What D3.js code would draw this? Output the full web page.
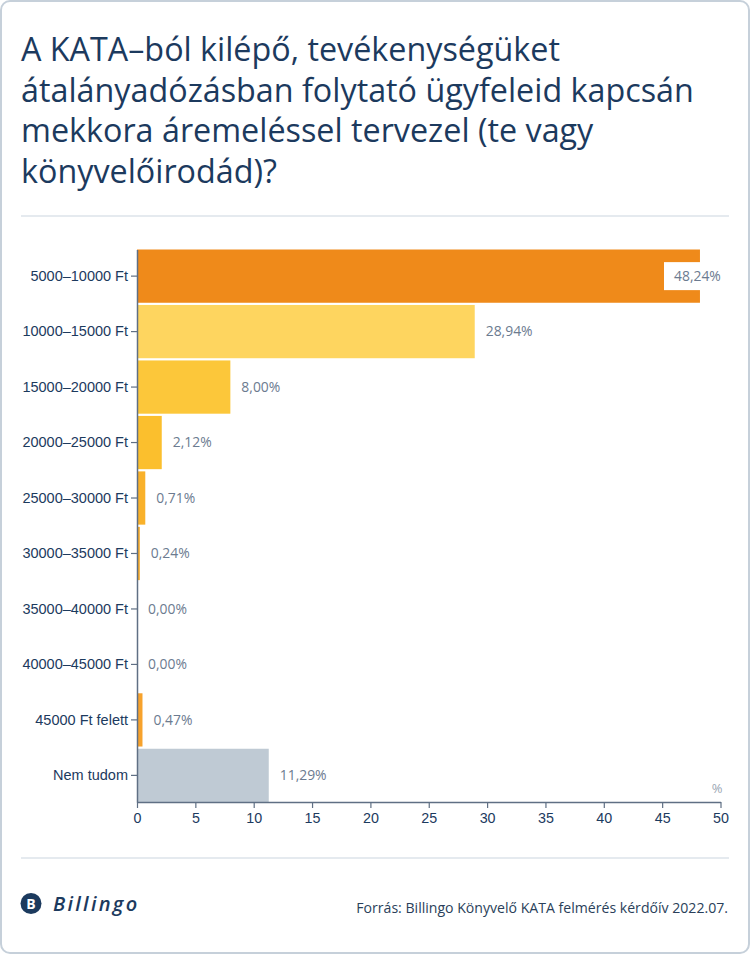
<!DOCTYPE html>
<html>
<head>
<meta charset="utf-8">
<script src="https://cdn.jsdelivr.net/npm/d3@7"></script>
<style>
  body { margin: 0; background: #fff; }
  svg { display: block; font-family: "Open Sans", "Noto Sans", sans-serif; }
</style>
</head>
<body>
<div id="chart"></div>
<script>
// Data
const categories = ['5000–10000 Ft', '10000–15000 Ft', '15000–20000 Ft', '20000–25000 Ft',
    '25000–30000 Ft', '30000–35000 Ft', '35000–40000 Ft', '40000–45000 Ft',
    '45000 Ft felett', 'Nem tudom'];
const values = [48.24, 28.94, 8.00, 2.12, 0.71, 0.24, 0.00, 0.00, 0.47, 11.29];
const barColors = ['#ef8a1a', '#fed55f', '#fcc73a', '#fbbf2d', '#f9b12a', '#f6aa27',
    '#f5a528', '#f5a528', '#f7a22c', '#bfcad4'];
const xTicks = [0, 5, 10, 15, 20, 25, 30, 35, 40, 45, 50];
const titleLines = ['A KATA–ból kilépő, tevékenységüket',
    'átalányadózásban folytató ügyfeleid kapcsán',
    'mekkora áremeléssel tervezel (te vagy',
    'könyvelőirodád)?'];
const sourceText = 'Forrás: Billingo Könyvelő KATA felmérés kérdőív 2022.07.';

const W = 750, H = 954;
const navy = '#1c3a5e';

const svg = d3.select('#chart').append('svg')
    .attr('width', W)
    .attr('height', H);

// Card
svg.append('rect')
    .attr('x', 1).attr('y', 1)
    .attr('width', W - 2).attr('height', H - 2)
    .attr('rx', 9)
    .attr('fill', '#fff')
    .attr('stroke', '#c6d0da')
    .attr('stroke-width', 2);

// Title
svg.append('text')
    .attr('x', 21)
    .attr('y', 61)
    .attr('fill', navy)
    .style('font-size', '32.3px')
    .selectAll('tspan')
    .data(titleLines)
    .enter()
    .append('tspan')
    .attr('x', 21)
    .attr('dy', (d, i) => i === 0 ? 0 : 40.5)
    .text(d => d);

// Separators
[216, 858].forEach(yy => {
    svg.append('line')
        .attr('x1', 21).attr('x2', 729)
        .attr('y1', yy).attr('y2', yy)
        .attr('stroke', '#dde3ea')
        .attr('stroke-width', 1.5);
});

// Scales
const x = d3.scaleLinear().domain([0, 50]).range([137, 720.5]);
const y = d3.scaleBand().domain(categories).range([249.5, 802]).paddingInner(0.04);

// Bars
svg.selectAll('.bar')
    .data(categories)
    .enter()
    .append('rect')
    .attr('class', 'bar')
    .attr('x', x(0))
    .attr('y', d => y(d))
    .attr('width', (d, i) => x(values[i]) - x(0))
    .attr('height', y.bandwidth())
    .attr('fill', (d, i) => barColors[i]);

// Value labels: just right of the bar, pulled inside on a white patch when too long
const fmt = v => v.toFixed(2).replace('.', ',') + '%';
const maxStart = 674;
const labelX = v => Math.min(x(v) + 11, maxStart);
const labels = svg.selectAll('.val')
    .data(categories)
    .enter()
    .append('g')
    .attr('class', 'val')
    .attr('transform', (d, i) => `translate(${labelX(values[i])},${y(d) + y.bandwidth() / 2})`);

labels.filter((d, i) => x(values[i]) + 11 > maxStart)
    .append('rect')
    .attr('x', -10).attr('y', -14)
    .attr('width', 68).attr('height', 28)
    .attr('fill', '#fff');

labels.append('text')
    .attr('dy', '0.35em')
    .attr('fill', '#6c7b90')
    .style('font-size', '13.9px')
    .text((d, i) => fmt(values[i]));

// Axes
const axisColor = '#5f6f84';
const gx = svg.append('g')
    .attr('transform', `translate(0,${802})`)
    .call(d3.axisBottom(x).tickValues(xTicks).tickSize(6).tickSizeOuter(0).tickPadding(5));
gx.selectAll('text').attr('fill', navy).style('font-size', '14.3px');

const gy = svg.append('g')
    .attr('transform', `translate(${137},0)`)
    .call(d3.axisLeft(y).tickSize(6).tickSizeOuter(0).tickPadding(3));
gy.selectAll('text').attr('fill', navy).style('font-size', '14.5px');

[gx, gy].forEach(g => {
    g.select('.domain').attr('stroke', axisColor).attr('stroke-width', 1.5);
    g.selectAll('.tick line').attr('stroke', axisColor).attr('stroke-width', 1.2);
});

// Unit label
svg.append('text')
    .attr('x', 717)
    .attr('y', 793)
    .attr('text-anchor', 'middle')
    .attr('fill', '#9ba6b3')
    .style('font-size', '13px')
    .text('%');

// Footer: logo
const logo = svg.append('g').attr('transform', 'translate(31,903.5)');
logo.append('circle')
    .attr('r', 10.5)
    .attr('fill', navy);
logo.append('text')
    .attr('text-anchor', 'middle')
    .attr('dy', '0.36em')
    .attr('fill', '#fff')
    .style('font-size', '14px')
    .style('font-weight', 'bold')
    .text('B');
logo.append('text')
    .attr('x', 22)
    .attr('dy', '0.35em')
    .attr('fill', navy)
    .style('font-size', '20px')
    .style('font-style', 'italic')
    .style('font-weight', '600')
    .style('letter-spacing', '2.3px')
    .text('Billingo');

// Footer: source
svg.append('text')
    .attr('x', 728)
    .attr('y', 908)
    .attr('text-anchor', 'end')
    .attr('dy', '0.35em')
    .attr('fill', '#2a3f5a')
    .style('font-size', '14.1px')
    .text(sourceText);
</script>
</body>
</html>
